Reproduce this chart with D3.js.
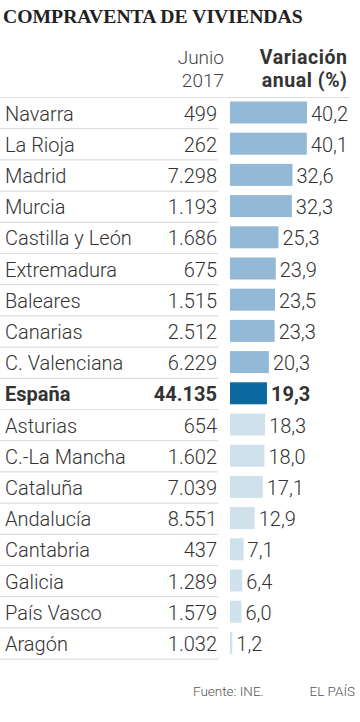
<!DOCTYPE html>
<html><head><meta charset="utf-8">
<script src="https://cdn.jsdelivr.net/npm/d3@7"></script>
<style>
html,body{margin:0;padding:0;background:#fff;}
svg{display:block;}
</style></head>
<body>
<script>
const regions = ["Navarra","La Rioja","Madrid","Murcia","Castilla y León","Extremadura","Baleares","Canarias","C. Valenciana","España","Asturias","C.-La Mancha","Cataluña","Andalucía","Cantabria","Galicia","País Vasco","Aragón"];
const sales = ["499","262","7.298","1.193","1.686","675","1.515","2.512","6.229","44.135","654","1.602","7.039","8.551","437","1.289","1.579","1.032"];
const change = [40.2,40.1,32.6,32.3,25.3,23.9,23.5,23.3,20.3,19.3,18.3,18.0,17.1,12.9,7.1,6.4,6.0,1.2];
const totalName = "España";

const W=360,H=722;
const svg=d3.select("body").append("svg").attr("width",W).attr("height",H);
const font="Roboto, 'Open Sans', sans-serif";
const textCol="#333";
const fs=20;

svg.append("text").attr("x",3).attr("y",23)
  .attr("font-family","'Liberation Serif', serif").attr("font-weight","bold")
  .attr("font-size",19.7).attr("fill","#222").text("COMPRAVENTA DE VIVIENDAS");

// headers
const h1=svg.append("text").attr("font-family",font).attr("font-weight",300).attr("font-size",19).attr("fill","#444").attr("text-anchor","end");
h1.append("tspan").attr("x",224).attr("y",64).text("Junio");
h1.append("tspan").attr("x",224).attr("y",87).text("2017");
const h2=svg.append("text").attr("font-family",font).attr("font-weight",700).attr("font-size",19.5).attr("letter-spacing",0.55).attr("fill","#333").attr("text-anchor","end");
h2.append("tspan").attr("x",347.5).attr("y",64).text("Variación");
h2.append("tspan").attr("x",347.5).attr("y",87).text("anual (%)");

const topY=97.5, rowH=31.2;
const y=d3.scaleBand().domain(regions).range([topY, topY+rowH*regions.length]).paddingInner(0).paddingOuter(0);
const x=d3.scaleLinear().domain([0,40.2]).range([230,307]);

svg.append("line").attr("x1",0).attr("x2",350).attr("y1",topY).attr("y2",topY).attr("stroke","#ddd").attr("stroke-width",1.2);

const rows=svg.selectAll("g.row").data(regions.map((r,i)=>({r,s:sales[i],v:change[i],i}))).enter().append("g");
rows.append("line").attr("x1",0).attr("x2",218).attr("y1",d=>y(d.r)+rowH).attr("y2",d=>y(d.r)+rowH).attr("stroke","#ddd").attr("stroke-width",1.2);
const tIdx=regions.indexOf(totalName);
const col=d=>d.i<tIdx?"#93b9d6":(d.i===tIdx?"#0b69a0":"#cfe2ec");
rows.append("rect").attr("x",x(0)).attr("y",d=>y(d.r)+4).attr("width",d=>x(d.v)-x(0)).attr("height",22)
  .attr("fill",col);
const ty=d=>y(d.r)+23;
rows.append("text").attr("x",5).attr("y",ty).attr("font-family",font)
  .attr("font-weight",d=>d.r===totalName?700:300).attr("font-size",fs).attr("fill",textCol).text(d=>d.r);
rows.append("text").attr("x",217).attr("y",ty).attr("text-anchor","end").attr("font-family",font)
  .attr("font-weight",d=>d.r===totalName?700:300).attr("font-size",fs).attr("fill",textCol).text(d=>d.s);
rows.append("text").attr("x",d=>x(d.v)+4).attr("y",ty).attr("font-family",font)
  .attr("font-weight",d=>d.r===totalName?700:300).attr("font-size",fs).attr("fill",textCol).text(d=>d3.format(".1f")(d.v).replace(".",","));

svg.append("text").attr("x",193).attr("y",696).attr("font-family",font).attr("font-weight",300).attr("font-size",13.5).attr("fill","#555").text("Fuente: INE.");
svg.append("text").attr("x",355).attr("y",696).attr("text-anchor","end").attr("font-family",font).attr("font-weight",300).attr("font-size",13.5).attr("fill","#555").text("EL PAÍS");
</script>
</body></html>
